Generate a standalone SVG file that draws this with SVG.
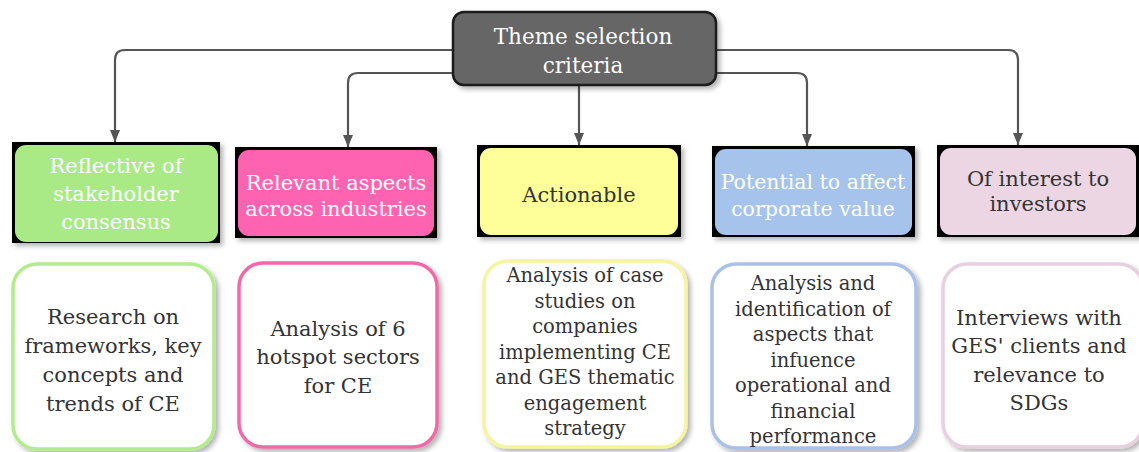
<svg xmlns="http://www.w3.org/2000/svg" width="1139" height="452" viewBox="0 0 1139 452">
<defs>
<filter id="sh" x="-10%" y="-10%" width="125%" height="125%">
<feDropShadow dx="3" dy="3" stdDeviation="2.5" flood-color="#000" flood-opacity="0.3"/>
</filter>
<marker id="arr" viewBox="0 0 12 10" refX="12" refY="5" markerWidth="12" markerHeight="10" markerUnits="userSpaceOnUse" orient="auto">
<path d="M0,0 L12,5 L0,10 z" fill="#555"/>
</marker>
<style>
text{font-family:"DejaVu Serif","Liberation Serif",serif;text-anchor:middle}
.w{fill:#fff}
.d{fill:#333}
.t{font-size:21px}
.b{font-size:21px}
.s{font-size:19.5px}
.conn path{fill:none;stroke:#555;stroke-width:2.2;marker-end:url(#arr)}
.blk{fill:#000}
.bot{fill:#fff;stroke-width:3.5}
</style>
</defs>
<rect width="1139" height="452" fill="#fff"/>

<g class="conn" id="connectors">
<path d="M453,50 H125 Q115,50 115,60 V142"/>
<path d="M453,73 H358 Q348,73 348,83 V147"/>
<path d="M579,85 V145"/>
<path d="M716,73 H797 Q807,73 807,83 V146"/>
<path d="M716,50 H1008 Q1018,50 1018,60 V145"/>
</g>

<g id="root">
<rect x="453" y="12" width="263" height="73" rx="11" fill="#666" stroke="#1a1a1a" stroke-width="2.5" filter="url(#sh)"/>
<text class="w" x="583" y="44" font-size="21.5px">Theme selection</text>
<text class="w" x="583" y="73" font-size="21.5px">criteria</text>
</g>

<g id="c1">
<g filter="url(#sh)">
<rect class="blk" x="12" y="142" width="208" height="101"/>
<rect x="15" y="145" width="203" height="97" rx="11" fill="#a9ea86"/>
</g>
<text class="w t" x="116" y="173">Reflective of</text>
<text class="w t" x="116" y="201">stakeholder</text>
<text class="w t" x="116" y="229">consensus</text>
</g>

<g id="c2">
<g filter="url(#sh)">
<rect class="blk" x="235" y="147" width="202" height="91"/>
<rect x="238" y="150" width="196" height="86" rx="11" fill="#fe64b2"/>
</g>
<text class="w t" x="336" y="190">Relevant aspects</text>
<text class="w t" x="336" y="216">across industries</text>
</g>

<g id="c3">
<g filter="url(#sh)">
<rect class="blk" x="477" y="145" width="204" height="92"/>
<rect x="480" y="148" width="198" height="87" rx="11" fill="#ffff99"/>
</g>
<text class="d t" x="579" y="202">Actionable</text>
</g>

<g id="c4">
<g filter="url(#sh)">
<rect class="blk" x="712" y="146" width="203" height="91"/>
<rect x="715" y="149" width="197" height="86" rx="11" fill="#a6c3ec"/>
</g>
<text class="w" x="813" y="189" font-size="20.5px">Potential to affect</text>
<text class="w" x="813" y="216" font-size="20.5px">corporate value</text>
</g>

<g id="c5">
<g filter="url(#sh)">
<rect class="blk" x="937" y="145" width="204" height="92"/>
<rect x="940" y="148" width="196" height="87" rx="11" fill="#ecd6e4"/>
</g>
<text class="d t" x="1038" y="186">Of interest to</text>
<text class="d t" x="1038" y="211">investors</text>
</g>

<g id="d1">
<rect class="bot" x="13" y="264" width="201" height="185" rx="24" stroke="#b2ec8d" filter="url(#sh)"/>
<text class="d b" x="113" y="324">Research on</text>
<text class="d b" x="113" y="353">frameworks, key</text>
<text class="d b" x="113" y="382">concepts and</text>
<text class="d b" x="113" y="411">trends of CE</text>
</g>

<g id="d2">
<rect class="bot" x="239" y="263" width="198" height="184" rx="24" stroke="#f06aaa" stroke-width="4" filter="url(#sh)"/>
<text class="d b" x="338" y="336">Analysis of 6</text>
<text class="d b" x="338" y="364">hotspot sectors</text>
<text class="d b" x="338" y="393">for CE</text>
</g>

<g id="d3">
<rect class="bot" x="484" y="261" width="202" height="186" rx="24" stroke="#f6f4a0" filter="url(#sh)"/>
<text class="d s" x="585" y="282">Analysis of case</text>
<text class="d s" x="585" y="307.5">studies on</text>
<text class="d s" x="585" y="333">companies</text>
<text class="d s" x="585" y="358.5">implementing CE</text>
<text class="d s" x="585" y="384">and GES thematic</text>
<text class="d s" x="585" y="409.5">engagement</text>
<text class="d s" x="585" y="435">strategy</text>
</g>

<g id="d4">
<rect class="bot" x="712" y="264" width="204" height="184" rx="24" stroke="#a9c1e6" filter="url(#sh)"/>
<text class="d s" x="813" y="290">Analysis and</text>
<text class="d s" x="813" y="315.5">identification of</text>
<text class="d s" x="813" y="341">aspects that</text>
<text class="d s" x="813" y="366.5">infuence</text>
<text class="d s" x="813" y="392">operational and</text>
<text class="d s" x="813" y="417.5">financial</text>
<text class="d s" x="813" y="443">performance</text>
</g>

<g id="d5">
<rect class="bot" x="943" y="264" width="200" height="183" rx="24" stroke="#e9d0df" filter="url(#sh)"/>
<text class="d b" x="1039" y="325">Interviews with</text>
<text class="d b" x="1039" y="353">GES' clients and</text>
<text class="d b" x="1039" y="382">relevance to</text>
<text class="d b" x="1039" y="410">SDGs</text>
</g>
</svg>
